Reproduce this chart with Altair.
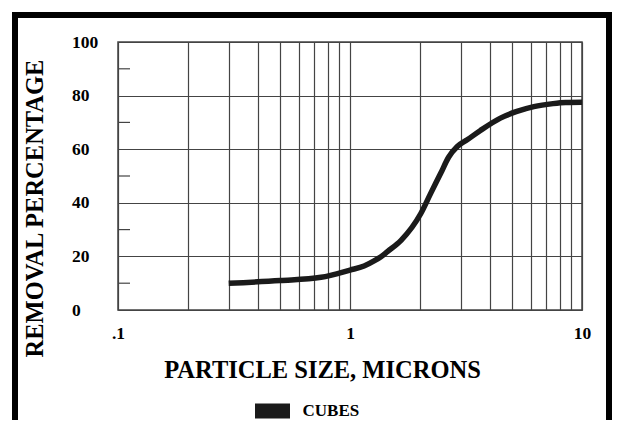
import altair as alt
import pandas as pd

# particle size (microns) and removal percentage
size_um = [0.3, 0.5, 0.75, 1.0, 1.15, 1.27, 1.36, 1.45, 1.66, 2.02, 2.23,
           2.46, 2.66, 2.9, 3.2, 3.65, 4.45, 5.2, 6.2, 7.5, 8.5, 10.0]
removal = [10, 11, 12.2, 14.9, 16.4, 18.3, 19.9, 21.8, 26, 36, 43.6,
           51, 57, 61, 63.5, 67, 71.6, 74, 75.9, 77.0, 77.4, 77.5]
series = ["CUBES"] * len(size_um)

x_grid = [0.1, 0.2, 0.3, 0.4, 0.5, 0.6, 0.7, 0.8, 0.9,
          1, 2, 3, 4, 5, 6, 7, 8, 9, 10]
y_labels = [0, 20, 40, 60, 80, 100]
y_minor = [10, 30, 50, 70, 90]

FONT = "Liberation Serif"
GRID = "#444444"
INK = "#1a1a1a"

df = pd.DataFrame({"size": size_um, "removal": removal, "series": series})

x_scale = alt.Scale(type="log", domain=[0.1, 10])
y_scale = alt.Scale(domain=[0, 100])

curve = alt.Chart(df).mark_line(strokeWidth=5.5, interpolate="monotone").encode(
    x=alt.X("size:Q", scale=x_scale, axis=alt.Axis(
        values=x_grid, grid=True, gridColor=GRID, gridWidth=1.2, gridOpacity=1,
        ticks=False, domain=False,
        labelExpr="datum.value == 0.1 ? '.1' : (datum.value == 1 ? '1' : (datum.value == 10 ? '10' : ''))",
        labelFlush=False, labelPadding=14, labelBaseline="top",
        labelFont=FONT, labelFontSize=17.5, labelFontWeight="bold", labelColor="black",
        title="PARTICLE SIZE, MICRONS", titleFont=FONT, titleFontSize=24.5,
        titleFontWeight="bold", titleColor="black", titleBaseline="alphabetic",
        titleAlign="center", titleX=204, titleY=67)),
    y=alt.Y("removal:Q", scale=y_scale, axis=alt.Axis(
        values=y_labels, grid=True, gridColor=GRID, gridWidth=1.2, gridOpacity=1,
        ticks=False, domain=False,
        labelAlign="left", labelBaseline="middle", labelPadding=46.5,
        labelFont=FONT, labelFontSize=17.5, labelFontWeight="bold", labelColor="black",
        title="REMOVAL PERCENTAGE", titleFont=FONT, titleFontSize=24.5,
        titleFontWeight="bold", titleColor="black", titleBaseline="alphabetic",
        titleX=-75.5, titleY=166)),
    color=alt.Color("series:N", scale=alt.Scale(range=[INK]), legend=alt.Legend(
        orient="none", legendX=129.5, legendY=344, title=None,
        symbolType="stroke", symbolSize=1225, symbolStrokeWidth=15,
        labelFont=FONT, labelFontSize=17, labelFontWeight="bold", labelColor="black",
        labelOffset=5)),
)

minor = alt.Chart(pd.DataFrame({"v": y_minor})).mark_rule(
    color=GRID, strokeWidth=1.2).encode(
    y=alt.Y("v:Q", scale=y_scale), x=alt.value(0), x2=alt.value(12))

frame = alt.Chart(pd.DataFrame({"a": [0]})).mark_rect(
    fill="transparent", stroke="black", strokeWidth=6).encode(
    x=alt.value(-103), x2=alt.value(491), y=alt.value(-27), y2=alt.value(500))

chart = alt.layer(minor, curve, frame).properties(
    width=464, height=268,
    autosize=alt.AutoSizeParams(type="none"),
    padding={"left": 110, "top": 34, "right": 30, "bottom": 110},
).configure_view(stroke=GRID, strokeWidth=1.5)

chart.save("out.html", embed_options={"renderer": "svg", "actions": False})
